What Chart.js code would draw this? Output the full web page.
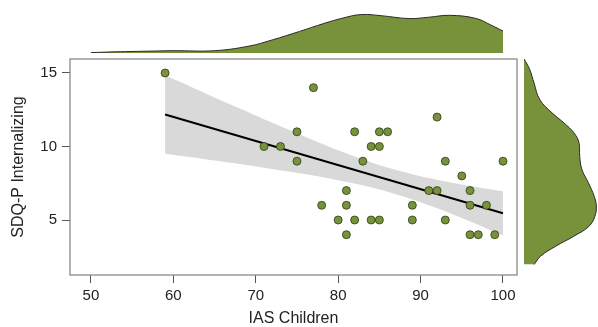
<!DOCTYPE html>
<html>
<head>
<meta charset="utf-8">
<script src="https://cdn.jsdelivr.net/npm/chart.js@4.4.1/dist/chart.umd.min.js"></script>
<style>
  html, body { margin:0; padding:0; background:#fff; }
  #wrap { position:relative; width:598px; height:327px; overflow:hidden; }
  .box { position:absolute; }
</style>
</head>
<body>
<div id="wrap">
  <div class="box" style="left:0;top:0;width:598px;height:327px;"><canvas id="main"></canvas></div>
  <div class="box" style="left:70px;top:13px;width:447px;height:40px;"><canvas id="top"></canvas></div>
  <div class="box" style="left:524px;top:59px;width:74px;height:216px;"><canvas id="right"></canvas></div>
</div>
<script>
// ---- data ----
const iasChildren = [59,71,73,75,75,77,92,82,85,86,84,85,83,93,100,95,81,91,92,96,78,81,89,96,98,80,82,84,85,89,93,81,96,97,99];
const sdqInternalizing = [15,10,10,11,9,14,12,11,11,11,10,10,9,9,9,8,7,7,7,7,6,6,6,6,6,5,5,5,5,5,5,4,4,4,4];

const fitX = [59, 100];
const fitY = [12.18, 5.46];

const bandX     = [59,62,65,68,71,74,77,80,83,86,89,92,95,98,100];
const bandUpper = [14.85,14.10,13.34,12.60,11.86,11.14,10.43,9.75,9.12,8.57,8.12,7.74,7.41,7.13,6.96];
const bandLower = [9.51,9.28,9.04,8.81,8.56,8.30,8.03,7.71,7.36,6.93,6.40,5.80,5.13,4.43,3.96];

const xTicks = [50,60,70,80,90,100];
const yTicks = [5,10,15];

const topDensX = [50,53,57.5,60,65,69.2,72,75.3,78.3,80.6,82.8,85.2,88.6,91,93.5,96.7,98.6,100];
const topDensY = [0.01,0.03,0.05,0.06,0.06,0.18,0.34,0.56,0.77,0.91,1.0,0.97,0.895,0.93,0.98,0.9,0.72,0.57];

const rightDensY = [15.97,15.24,14.33,13.2,12.29,11.6,10.93,10.25,9.34,8.44,7.53,6.62,5.94,5.26,4.58,3.9,3.22,2.54,1.97];
const rightDensX = [0,0.079,0.138,0.217,0.387,0.553,0.69,0.76,0.77,0.80,0.89,0.97,1.0,0.98,0.90,0.69,0.44,0.23,0.14];

// ---- styling ----
const GREEN = '#77923b';
const FONT = "'Liberation Sans', Arial, sans-serif";
const TXT = '#222';

const boxPlugin = {
  id: 'boxPlugin',
  afterDraw(chart) {
    const a = chart.chartArea, ctx = chart.ctx;
    ctx.save();
    ctx.strokeStyle = '#8a8a8a';
    ctx.lineWidth = 1.3;
    ctx.strokeRect(a.left, a.top, a.right - a.left, a.bottom - a.top);
    ctx.restore();
  }
};

const pts = iasChildren.map((x, i) => ({x, y: sdqInternalizing[i]}));

new Chart(document.getElementById('main'), {
  type: 'scatter',
  data: {
    datasets: [
      { type:'line', data: bandX.map((x,i)=>({x, y: bandUpper[i]})), borderWidth:0, pointRadius:0, fill:false, tension:0.3, order:3 },
      { type:'line', data: bandX.map((x,i)=>({x, y: bandLower[i]})), borderWidth:0, pointRadius:0, fill:'-1', backgroundColor:'#d9d9d9', tension:0.3, order:3 },
      { type:'line', data: fitX.map((x,i)=>({x, y: fitY[i]})), borderColor:'#000', borderWidth:2, pointRadius:0, fill:false, order:2 },
      { data: pts, backgroundColor: GREEN, borderColor:'#2e3a18', borderWidth:0.8, pointRadius:4, order:1 }
    ]
  },
  options: {
    responsive:true, maintainAspectRatio:false, animation:false,
    layout: { padding: { left:0, top:59, right:81, bottom:0 } },
    plugins: { legend:{display:false}, tooltip:{enabled:false} },
    scales: {
      x: {
        type:'linear', min:47.46, max:101.7,
        afterBuildTicks: s => { s.ticks = xTicks.map(v => ({value:v})); },
        afterFit: s => { s.height = 52; },
        grid: { drawOnChartArea:false, drawTicks:true, tickLength:8, tickColor:'#555' },
        border: { display:false },
        ticks: { color:TXT, font:{family:FONT, size:15}, padding:4, maxRotation:0 },
        title: { display:true, text:'IAS Children', color:TXT, font:{family:FONT, size:16}, padding:{top:0,bottom:-1} }
      },
      y: {
        type:'linear', min:1.26, max:15.95,
        afterBuildTicks: s => { s.ticks = yTicks.map(v => ({value:v})); },
        afterFit: s => { s.width = 70; },
        grid: { drawOnChartArea:false, drawTicks:true, tickLength:8, tickColor:'#555' },
        border: { display:false },
        ticks: { color:TXT, font:{family:FONT, size:15}, padding:5 },
        title: { display:true, text:'SDQ-P Internalizing', color:TXT, font:{family:FONT, size:16}, padding:{top:9,bottom:0} }
      }
    }
  },
  plugins: [boxPlugin]
});

new Chart(document.getElementById('top'), {
  type: 'line',
  data: {
    datasets: [{
      data: topDensX.map((x,i)=>({x, y: topDensY[i]})),
      borderColor:'#2a2a2a', borderWidth:1, backgroundColor: GREEN,
      fill:'origin', pointRadius:0, tension:0.4
    }]
  },
  options: {
    responsive:true, maintainAspectRatio:false, animation:false,
    layout: { padding: 0 },
    plugins: { legend:{display:false}, tooltip:{enabled:false} },
    scales: {
      x: { type:'linear', min:47.46, max:101.7, display:false },
      y: { type:'linear', min:0, max:1.04, display:false }
    }
  }
});

new Chart(document.getElementById('right'), {
  type: 'line',
  data: {
    datasets: [{
      data: rightDensY.map((y,i)=>({x: rightDensX[i], y})),
      borderColor:'#2a2a2a', borderWidth:1, backgroundColor: GREEN,
      fill:'origin', pointRadius:0, tension:0.4
    }]
  },
  options: {
    indexAxis:'y',
    responsive:true, maintainAspectRatio:false, animation:false,
    layout: { padding: 0 },
    plugins: { legend:{display:false}, tooltip:{enabled:false} },
    scales: {
      x: { type:'linear', min:0, max:1.023, display:false },
      y: { type:'linear', min:1.26, max:15.95, display:false }
    }
  }
});
</script>
</body>
</html>
